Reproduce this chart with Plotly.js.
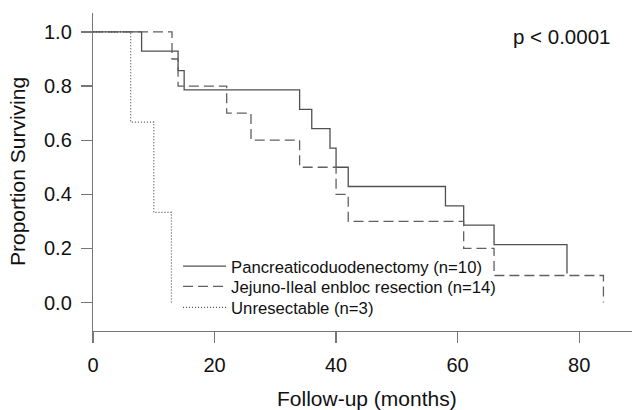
<!DOCTYPE html>
<html>
<head>
<meta charset="utf-8">
<script src="https://cdn.plot.ly/plotly-3.0.1.min.js"></script>
<style>html,body{margin:0;padding:0;background:#fff;}#chart{width:632px;height:410px;}</style>
</head>
<body>
<div id="chart"></div>
<script>
// Kaplan-Meier step data (months, proportion surviving)
const pancTime = [0, 8, 14, 15, 34, 36, 39, 40, 42, 58, 61, 66, 78];
const pancSurv = [1.0, 0.929, 0.857, 0.786, 0.714, 0.643, 0.571, 0.5, 0.429, 0.357, 0.286, 0.214, 0.107];
const jejTime = [0, 13, 14, 22, 26, 34, 40, 42, 61, 66, 84];
const jejSurv = [1.0, 0.9, 0.8, 0.7, 0.6, 0.5, 0.4, 0.3, 0.2, 0.1, 0.0];
const unresTime = [0, 6.2, 10, 12.9];
const unresSurv = [1.0, 0.667, 0.333, 0.0];
const seriesNames = ["Pancreaticoduodenectomy (n=10)", "Jejuno-Ileal enbloc resection (n=14)", "Unresectable (n=3)"];
const xTicks = [0, 20, 40, 60, 80];
const yTicks = [0.0, 0.2, 0.4, 0.6, 0.8, 1.0];
const yTickText = ["0.0", "0.2", "0.4", "0.6", "0.8", "1.0"];

const FONT = "Liberation Sans, Arial, sans-serif";
const traces = [
  {x: pancTime, y: pancSurv, name: seriesNames[0], mode: "lines", legend: "legend",
   line: {shape: "hv", color: "#505050", width: 1.3}},
  {x: jejTime, y: jejSurv, name: seriesNames[1], mode: "lines", legend: "legend2",
   line: {shape: "hv", color: "#606060", width: 1.3, dash: "10px,5px"}},
  {x: unresTime, y: unresSurv, name: seriesNames[2], mode: "lines", legend: "legend3",
   line: {shape: "hv", color: "#505050", width: 1.2, dash: "1px,2px"}}
];

function leg(y) {
  return {x: 0.1578, y: y, xanchor: "left", yanchor: "top", itemwidth: 43,
          bgcolor: "rgba(0,0,0,0)", borderwidth: 0,
          font: {size: 16.7, family: FONT, color: "#111"}};
}

const layout = {
  width: 632, height: 410,
  margin: {l: 93, r: 0, t: 13, b: 79, pad: 0},
  paper_bgcolor: "#fff", plot_bgcolor: "#fff",
  font: {family: FONT, color: "#111", size: 17},
  showlegend: true,
  legend: leg(0.2586),
  legend2: leg(0.1947),
  legend3: leg(0.1286),
  xaxis: {range: [0, 88.7], showgrid: false, zeroline: false, showline: true,
          linecolor: "#777", linewidth: 1.2, ticks: "outside", ticklen: 11,
          tickcolor: "#777", tickwidth: 1.2, tickvals: xTicks,
          tickfont: {size: 20, family: FONT, color: "#111"}, ticklabelstandoff: 5,
          title: {text: ""}},
  yaxis: {range: [-0.105, 1.07], showgrid: false, zeroline: false, showline: true,
          linecolor: "#777", linewidth: 1.2, ticks: "outside", ticklen: 11,
          tickcolor: "#777", tickwidth: 1.2, tickvals: yTicks, ticktext: yTickText,
          tickfont: {size: 20, family: FONT, color: "#111"}, ticklabelstandoff: 5,
          title: {text: ""}},
  annotations: [
    {text: "p < 0.0001", xref: "paper", yref: "paper", x: 0.870, y: 0.927,
     xanchor: "center", yanchor: "middle", showarrow: false,
     font: {size: 20.5, family: FONT, color: "#111"}},
    {text: "Follow-up (months)", xref: "paper", yref: "paper", x: 0.508, y: -0.213,
     xanchor: "center", yanchor: "middle", showarrow: false,
     font: {size: 21, family: FONT, color: "#111"}},
    {text: "Proportion Surviving", xref: "paper", yref: "paper", x: -0.141, y: 0.5,
     xanchor: "center", yanchor: "middle", textangle: -90, showarrow: false,
     font: {size: 21, family: FONT, color: "#111"}}
  ]
};

Plotly.newPlot("chart", traces, layout, {staticPlot: true, displayModeBar: false});
</script>
</body>
</html>
